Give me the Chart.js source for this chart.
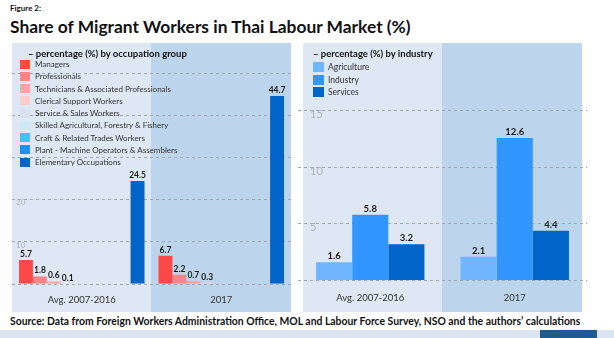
<!DOCTYPE html>
<html>
<head>
<meta charset="utf-8">
<script src="https://cdn.jsdelivr.net/npm/chart.js"></script>
<style>
  body { margin: 0; width: 614px; height: 338px; position: relative; overflow: hidden; background: #fff; font-family: Lato, sans-serif; color: #111; }
  #fig { position: absolute; left: 10px; top: 3px; font-size: 8px; font-weight: bold; }
  #title { position: absolute; left: 10px; top: 16px; font-size: 17.4px; font-weight: bold; white-space: nowrap; }
  .panel { position: absolute; top: 43px; height: 269px; width: 279px; background: linear-gradient(to right, #dde8f4 50%, #bdd5ec 50%); }
  #p1 { left: 12px; }
  #p2 { left: 303px; }
  .panel canvas { position: absolute; top: 0; }
  .legend { position: absolute; left: 0; top: 0; }
  .legend div { position: absolute; white-space: nowrap; }
  .legend .lt { font-weight: bold; color: #111; }
  .legend .sw { position: absolute; }
  #source { position: absolute; left: 10px; top: 315px; font-size: 10.4px; font-weight: bold; white-space: nowrap; }
  #strip { position: absolute; left: 0; top: 330px; width: 614px; height: 8px; background: #dbe5f1; }
  #strip2 { position: absolute; left: 540px; top: 330px; width: 57px; height: 8px; background: #1f5c8b; }
</style>
</head>
<body>
<div id="fig">Figure 2:</div>
<div id="title">Share of Migrant Workers in Thai Labour Market (%)</div>
<div class="panel" id="p1">
  <canvas id="occChart" width="279" height="269" style="left:0;width:279px;height:269px"></canvas>
  <div class="legend" id="occLegend"></div>
</div>
<div class="panel" id="p2">
  <canvas id="indChart" width="289" height="269" style="left:-5px;width:289px;height:269px"></canvas>
  <div class="legend" id="indLegend"></div>
</div>
<div id="source">Source: Data from Foreign Workers Administration Office, MOL and Labour Force Survey, NSO and the authors’ calculations</div>
<div id="strip"></div>
<div id="strip2"></div>

<script>
// periods on the x axis (both charts)
const periods = ['Avg. 2007-2016', '2017'];

// occupation groups (left chart)
const occupations = [
  'Managers',
  'Professionals',
  'Technicians & Associated Professionals',
  'Clerical Support Workers',
  'Service & Sales Workers',
  'Skilled Agricultural, Forestry & Fishery',
  'Craft & Related Trades Workers',
  'Plant - Machine Operators & Assemblers',
  'Elementary Occupations'
];
const occColors = ['#ff4848', '#ff8585', '#ffa3a3', '#ffcbcb', '#d9e1ee', '#cfe8fa', '#3cc6f3', '#1b91f7', '#0064c8'];
const occAvg = [5.7, 1.8, 0.6, 0.1, null, null, null, null, 24.5];
const occ2017 = [6.7, 2.2, 0.7, 0.3, null, null, 0.1, 0.1, 44.7];
const occLabelled = [true, true, true, true, false, false, false, false, true];
const occTicksShown = [10, 20];

// industries (right chart)
const industries = ['Agriculture', 'Industry', 'Services'];
const indColors = ['#70b5ff', '#3196ff', '#0064c8'];
const indAvg = [1.6, 5.8, 3.2];
const ind2017 = [2.1, 12.6, 4.4];
const indTicksShown = [5, 10, 15];

// draws the value above each bar
const valueLabels = {
  id: 'valueLabels',
  afterDatasetsDraw(chart, args, opts) {
    const ctx = chart.ctx;
    ctx.save();
    ctx.font = 'bold ' + opts.size + 'px Lato';
    ctx.fillStyle = '#1a1a1a';
    ctx.textAlign = 'center';
    ctx.textBaseline = 'alphabetic';
    chart.data.datasets.forEach((ds, i) => {
      if (ds.noLabel) return;
      chart.getDatasetMeta(i).data.forEach((bar, j) => {
        const v = ds.data[j];
        if (v == null) return;
        ctx.fillText(v.toFixed(1), bar.x, bar.y - 3);
      });
    });
    ctx.restore();
  }
};

function makeChart(id, names, colors, series, labelled, yMax, shown, o) {
  const datasets = names.map((n, i) => ({
    label: n,
    data: series.map(s => s[i]),
    backgroundColor: colors[i],
    borderWidth: 0,
    noLabel: !labelled[i],
    categoryPercentage: o.catPct,
    barPercentage: 1
  }));
  return new Chart(document.getElementById(id), {
    type: 'bar',
    data: { labels: periods, datasets },
    plugins: [valueLabels],
    options: {
      responsive: false,
      animation: false,
      layout: { padding: { top: 0, bottom: o.bottomPad, left: 0, right: 0 } },
      plugins: {
        legend: { display: false },
        tooltip: { enabled: false },
        valueLabels: { size: o.labelSize }
      },
      scales: {
        x: {
          grid: { display: false },
          border: { display: false },
          ticks: { color: '#333', font: { family: 'Lato', size: 9.5 }, padding: o.xPad }
        },
        y: {
          min: 0,
          max: yMax,
          afterFit: s => { s.width = 0; },
          afterBuildTicks: s => { s.ticks = s.ticks.filter(t => t.value % o.step === 0); },
          border: { display: false, dash: [3, 3] },
          grid: { color: '#9fa8b3', drawTicks: false },
          ticks: {
            stepSize: o.step,
            mirror: true,
            padding: o.yPad,
            labelOffset: o.yOff,
            color: '#aab4c0',
            font: { family: 'Lato', size: o.tickSize },
            callback: v => shown.includes(v) ? v : ''
          }
        }
      }
    }
  });
}

function buildLegend(el, title, names, colors, o) {
  let html = '<div class="lt" style="left:' + o.titleX + 'px;top:' + (o.titleY - 6) + 'px;font-size:' + o.titleSize + 'px;line-height:12px">' + title + '</div>';
  names.forEach((n, i) => {
    const cy = o.firstY + i * o.gap;
    html += '<div class="sw" style="left:' + o.boxX + 'px;top:' + (cy - o.box / 2) + 'px;width:' + (o.box + 1) + 'px;height:' + o.box + 'px;background:' + colors[i] + '"></div>';
    html += '<div style="left:' + o.textX + 'px;top:' + (cy - 6) + 'px;line-height:12px;font-size:' + o.textSize + 'px;color:#333">' + n + '</div>';
  });
  el.innerHTML = html;
}

const occChart = makeChart('occChart', occupations, occColors, [occAvg, occ2017], occLabelled, 55.2, occTicksShown,
  { catPct: 0.9, bottomPad: 4.6, xPad: 2, step: 10, yPad: 4, yOff: 3, tickSize: 8, labelSize: 8.5 });
const indChart = makeChart('indChart', industries, indColors, [indAvg, ind2017], [true, true, true], 19.36, indTicksShown,
  { catPct: 0.75, bottomPad: 3.6, xPad: 4.3, step: 5, yPad: 12, yOff: 4, tickSize: 11, labelSize: 9.5 });

buildLegend(document.getElementById('occLegend'), '– percentage (%) by occupation group', occupations, occColors,
  { titleX: 16, titleY: 10.5, titleSize: 9.5, firstY: 21, gap: 12.25, boxX: 8, box: 9, textX: 23, textSize: 8 });
buildLegend(document.getElementById('indLegend'), '– percentage (%) by industry', industries, indColors,
  { titleX: 10, titleY: 10.5, titleSize: 9.5, firstY: 24, gap: 12.6, boxX: 10, box: 10, textX: 25, textSize: 8.5 });
</script>
</body>
</html>
